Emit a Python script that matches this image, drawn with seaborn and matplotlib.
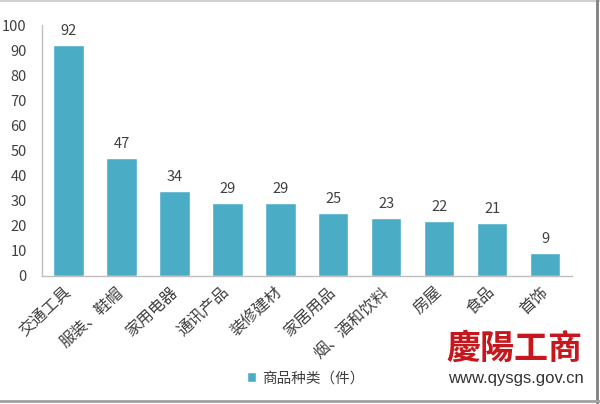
import pandas as pd
import seaborn as sns
import matplotlib.pyplot as plt
from matplotlib.lines import Line2D

# Data
categories = ['交通工具', '服装、鞋帽', '家用电器', '通讯产品', '装修建材',
              '家居用品', '烟、酒和饮料', '房屋', '食品', '首饰']
counts = [92, 47, 34, 29, 29, 25, 23, 22, 21, 9]
y_ticks = [0, 10, 20, 30, 40, 50, 60, 70, 80, 90, 100]
series_name = '商品种类（件）'
logo_text = '慶陽工商'
site_text = 'www.qysgs.gov.cn'

df = pd.DataFrame({'category': categories, 'count': counts, 'series': series_name})

bar_color = '#4BACC6'
text_color = '#404040'

sns.set_theme(style='white')
plt.rcParams['font.family'] = ['Noto Sans CJK SC', 'DejaVu Sans']

fig = plt.figure(figsize=(6, 4.04), dpi=100)
ax = fig.add_axes([0.07, 0.317, 0.883, 0.621])

sns.barplot(data=df, x='category', y='count', hue='series', palette=[bar_color],
            dodge=False, width=0.57, saturation=1, ax=ax)

ax.bar_label(ax.containers[0], padding=5, fontsize=10.5, color=text_color)

ax.set_ylim(0, 100)
ax.set_yticks(y_ticks)
ax.set_xlim(-0.5, len(categories) - 0.5)
ax.set_xlabel('')
ax.set_ylabel('')

ax.tick_params(axis='y', length=0, pad=11, labelsize=10.5, labelcolor=text_color)
ax.tick_params(axis='x', length=0, pad=10, labelsize=11.5, labelcolor=text_color)
for lbl in ax.get_xticklabels():
    lbl.set_rotation(43)
    lbl.set_rotation_mode('anchor')
    lbl.set_ha('right')
    lbl.set_va('center')

sns.despine(ax=ax)
for side in ['left', 'bottom']:
    ax.spines[side].set_color('#BFBFBF')
    ax.spines[side].set_linewidth(1)

# Legend at the bottom
sns.move_legend(ax, 'center left', bbox_to_anchor=(0.39, 0.064),
                bbox_transform=fig.transFigure, title=None, frameon=False,
                handlelength=0.6, handleheight=0.6, handletextpad=0.4,
                fontsize=10.5)
for t in ax.get_legend().get_texts():
    t.set_color(text_color)

# Watermark
fig.text(0.858, 0.139, logo_text, ha='center', va='center', fontsize=24.5,
         fontweight='bold', color='#C8161D',
         family=['Noto Sans CJK TC', 'DejaVu Sans'])
fig.text(0.86, 0.062, site_text, ha='center', va='center', fontsize=12,
         color='#333333', family='Liberation Sans')

# Image frame
fig.add_artist(Line2D([0, 1], [0.998, 0.998], color='#D0D0D0', lw=1.5))
fig.add_artist(Line2D([0.995, 0.995], [0, 1], color='#808080', lw=2))
fig.add_artist(Line2D([0, 1], [0.007, 0.007], color='#A0A0A0', lw=2))

fig.savefig('out.png', dpi=100)
